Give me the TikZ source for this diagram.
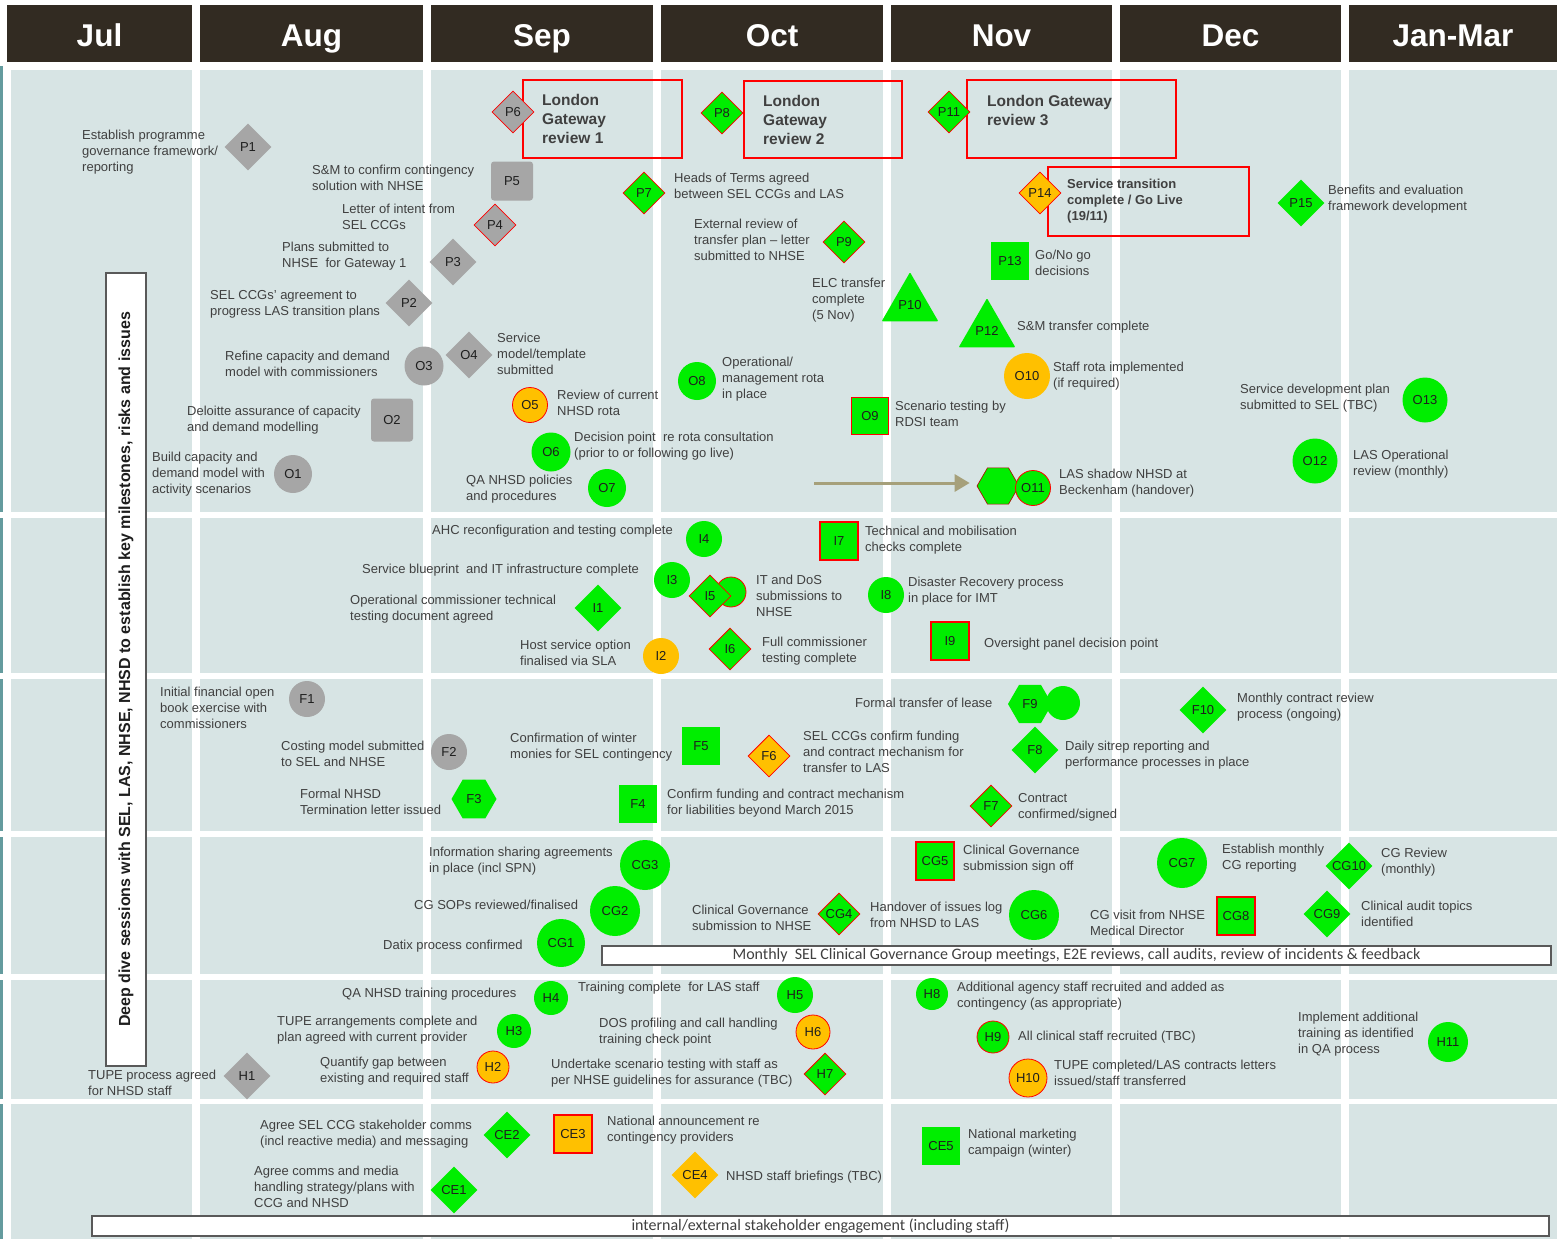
\documentclass[tikz,border=0pt]{standalone}
\usepackage{fontspec}
\setmainfont{Liberation Sans}
\newfontfamily\calib{Carlito}
\usetikzlibrary{shapes.geometric,arrows.meta}
\definecolor{grn}{RGB}{0,238,0}
\definecolor{org}{RGB}{255,192,0}
\definecolor{gry}{RGB}{166,166,166}
\definecolor{cellbg}{RGB}{215,228,228}
\definecolor{hdrc}{RGB}{50,43,34}
\definecolor{txt}{RGB}{64,64,64}
\definecolor{ntxt}{RGB}{30,30,30}
\definecolor{stripc}{RGB}{100,155,158}
\definecolor{arrc}{RGB}{166,160,122}
\definecolor{bord}{RGB}{89,89,89}
\newcommand\lblfont{\fontsize{13}{16}\selectfont}
\newcommand\gwfont{\fontsize{15.5}{19}\selectfont\bfseries}
\newcommand\stfont{\fontsize{13}{16}\selectfont\bfseries}
\newcommand\hdrfont{\fontsize{31.5}{36}\selectfont\bfseries}
\tikzset{
 mk/.style={inner sep=0pt, font=\lblfont, text=ntxt},
 gd/.style={mk, diamond, fill=gry, minimum size=47},
 gdr/.style={mk, diamond, fill=gry, draw=red, line width=0.8pt, minimum size=42},
 nd/.style={mk, diamond, fill=grn, minimum size=47},
 ndr/.style={mk, diamond, fill=grn, draw=red, line width=0.8pt, minimum size=42},
 od/.style={mk, diamond, fill=org, minimum size=47},
 odr/.style={mk, diamond, fill=org, draw=red, line width=0.8pt, minimum size=42},
 gsq/.style={mk, rectangle, rounded corners=3pt, fill=gry},
 nsq/.style={mk, rectangle, fill=grn},
 nsqr/.style={mk, rectangle, fill=grn, draw=red, line width=1.2pt},
 osqr/.style={mk, rectangle, fill=org, draw=red, line width=1.2pt},
 gc/.style={mk, circle, fill=gry},
 nc/.style={mk, circle, fill=grn},
 ncr/.style={mk, circle, fill=grn, draw=red, line width=0.8pt},
 oc/.style={mk, circle, fill=org},
 ocr/.style={mk, circle, fill=org, draw=red, line width=0.8pt},
 nhex/.style={mk, regular polygon, regular polygon sides=6, fill=grn},
 nhexr/.style={nhex, draw=red!70!black, line width=0.6pt},
 ntri/.style={mk, regular polygon, regular polygon sides=3, fill=grn, minimum size=63, rounded corners=1pt},
 lbl/.style={inner sep=0pt, font=\lblfont, text=txt, align=left, anchor=west},
 gwbox/.style={draw=red, line width=1.8pt, inner sep=0pt},
 gwtxt/.style={inner sep=0pt, font=\gwfont, text=txt, align=left, anchor=west},
 sttxt/.style={inner sep=0pt, font=\stfont, text=txt, align=left, anchor=west},
 banner/.style={draw=bord, line width=1.2pt, fill=white, inner sep=0pt, font=\calib\fontsize{16}{19}\selectfont, text=txt},
 hdr/.style={fill=hdrc, text=white, inner sep=0pt, minimum height=57, text height=27pt, text depth=0pt, font=\hdrfont},
 arr/.style={draw=arrc, line width=3pt, -{Triangle[length=15pt,width=17pt]}},
}
\begin{document}
\begin{tikzpicture}[x=1pt,y=-1pt]
\useasboundingbox (0,0) rectangle (1557,1239);
\fill[white] (0,0) rectangle (1557,1239);
% background cells
\foreach \xa/\xb in {11/192,200/423,431/653,661/883,891/1112,1120/1341,1349/1557}
 \foreach \ya/\yb in {70/512,518/673,679/831,837/974,980/1099,1104/1239}
  \fill[cellbg] (\xa,\ya) rectangle (\xb,\yb);
\foreach \ya/\yb in {66/512,518/673,679/831,837/974,980/1099,1104/1239}
  \fill[stripc] (0,\ya) rectangle (3,\yb);
% headers
\node[hdr, minimum width=185] (hJul) at (99.5,33.5) {Jul};
\node[hdr, minimum width=223] (hAug) at (311.5,33.5) {Aug};
\node[hdr, minimum width=222] (hSep) at (542,33.5) {Sep};
\node[hdr, minimum width=222] (hOct) at (772,33.5) {Oct};
\node[hdr, minimum width=221] (hNov) at (1001.5,33.5) {Nov};
\node[hdr, minimum width=221] (hDec) at (1230.5,33.5) {Dec};
\node[hdr, minimum width=208] (hJan) at (1453,33.5) {Jan-Mar};
% deep dive box
\node[draw=bord, line width=1.2pt, fill=white, rotate=90, minimum width=793, minimum height=40, inner sep=0pt, font=\fontsize{16}{19}\selectfont\bfseries, text=ntxt] (deep) at (126,669.5) {Deep dive sessions with SEL, LAS, NHSE, NHSD to establish key milestones, risks and issues};
% banners
\node[banner, minimum width=949, minimum height=19] (cgban) at (1076.5,955.5) {Monthly\ \ SEL Clinical Governance Group meetings, E2E reviews, call audits, review of incidents \& feedback};
\node[banner, minimum width=1457, minimum height=20] (seban) at (820.5,1226) {internal/external stakeholder engagement (including staff)};
% gateway boxes
\node[gwbox, minimum width=159, minimum height=78] (gw1) at (602.5,119) {};
\node[gwtxt] (gw1t) at (542,119) {London\\Gateway\\review 1};
\node[gwbox, minimum width=158, minimum height=77] (gw2) at (823,119.5) {};
\node[gwtxt] (gw2t) at (763,120) {London\\Gateway\\review 2};
\node[gwbox, minimum width=209, minimum height=78] (gw3) at (1071.5,119) {};
\node[gwtxt] (gw3t) at (987,110.5) {London Gateway\\review 3};
\node[gwbox, minimum width=201, minimum height=69] (stb) at (1148.5,201.5) {};
\node[sttxt] (stt) at (1067,201) {Service transition\\complete / Go Live\\(19/11)};
% ---------- row 1 nodes
\node[gd] (P1) at (248,147) {P1};
\node[gdr] (P6) at (513,112) {P6};
\node[gsq, minimum width=42, minimum height=39] (P5) at (512,181) {P5};
\node[gdr] (P4) at (495,225) {P4};
\node[gd] (P3) at (453,262) {P3};
\node[gd] (P2) at (409,303) {P2};
\node[gc, minimum size=39] (O3) at (424,366) {O3};
\node[gd] (O4) at (469,355) {O4};
\node[gsq, minimum width=42, minimum height=43] (O2) at (392,420) {O2};
\node[gc, minimum size=38] (O1) at (293,474) {O1};
\node[ndr] (P8) at (722,113) {P8};
\node[ndr] (P11) at (949,112) {P11};
\node[ndr] (P7) at (644,193) {P7};
\node[ndr] (P9) at (844,242) {P9};
\node[ntri] (P10) at (910,305) {P10};
\node[ntri] (P12) at (987,331) {P12};
\node[nsq, minimum size=38] (P13) at (1010,261) {P13};
\node[odr] (P14) at (1040,193) {P14};
\node[nd] (P15) at (1301,203) {P15};
\node[ocr, minimum size=35] (O5) at (530,405) {O5};
\node[nc, minimum size=39] (O6) at (551,452) {O6};
\node[nc, minimum size=38] (O7) at (607,488) {O7};
\node[nc, minimum size=38] (O8) at (697,381) {O8};
\node[nsqr, minimum size=37] (O9) at (870,416) {O9};
\node[oc, minimum size=46] (O10) at (1027,376) {O10};
\node[nhexr, minimum size=42] (O11h) at (998,486) {};
\node[ncr, minimum size=35] (O11) at (1033,488) {O11};
\node[nc, minimum size=45] (O13) at (1425,400) {O13};
\node[nc, minimum size=45] (O12) at (1315,461) {O12};
\coordinate (arrS) at (814,483);
\draw[arr, shorten >=7pt] (arrS) -- (arrS -| O11h.west);
% row 1 labels
\node[lbl] (tP1) at (82,152) {Establish programme\\governance framework/\\reporting};
\node[lbl] (tP5) at (312,177.5) {S\&M to confirm contingency\\solution with NHSE};
\node[lbl] (tP4) at (342,217) {Letter of intent from\\SEL CCGs};
\node[lbl] (tP3) at (282,256) {Plans submitted to\\NHSE\ \ for Gateway 1};
\node[lbl] (tP2) at (210,304) {SEL CCGs' agreement to\\progress LAS transition plans};
\node[lbl] (tO3) at (225,364) {Refine capacity and demand\\model with commissioners};
\node[lbl] (tO4) at (497,353.5) {Service\\model/template\\submitted};
\node[lbl] (tO2) at (187,420) {Deloitte assurance of capacity\\and demand modelling};
\node[lbl] (tO1) at (152,474) {Build capacity and\\demand model with\\activity scenarios};
\node[lbl] (tP7) at (674,185.5) {Heads of Terms agreed\\between SEL CCGs and LAS};
\node[lbl] (tP9) at (694,240) {External review of\\transfer plan – letter\\submitted to NHSE};
\node[lbl] (tP10) at (812,300) {ELC transfer\\complete\\(5 Nov)};
\node[lbl] (tP12) at (1017,327) {S\&M transfer complete};
\node[lbl] (tP13) at (1035,263) {Go/No go\\decisions};
\node[lbl] (tP15) at (1328,199) {Benefits and evaluation\\framework development};
\node[lbl] (tO5) at (557,403) {Review of current\\NHSD rota};
\node[lbl] (tO6) at (574,446) {Decision point\ \ re rota consultation\\(prior to or following go live)};
\node[lbl] (tO7) at (466,489) {QA NHSD policies\\and procedures};
\node[lbl] (tO8) at (722,379) {Operational/\\management rota\\in place};
\node[lbl] (tO9) at (895,414) {Scenario testing by\\RDSI team};
\node[lbl] (tO10) at (1053,376) {Staff rota implemented\\(if required)};
\node[lbl] (tO11) at (1059,483.5) {LAS shadow NHSD at\\Beckenham (handover)};
\node[lbl] (tO13) at (1240,398.5) {Service development plan\\submitted to SEL (TBC)};
\node[lbl] (tO12) at (1353,464) {LAS Operational\\review (monthly)};
% ---------- row 2
\node[nc, minimum size=36] (I4) at (704,539) {I4};
\node[nc, minimum size=36] (I3) at (672,580) {I3};
\node[ncr, minimum size=30] (I5c) at (731,592) {};
\node[ndr] (I5) at (710,596) {I5};
\node[nd] (I1) at (598,608) {I1};
\node[nsqr, minimum size=38] (I7) at (839,541) {I7};
\node[nc, minimum size=36] (I8) at (886,595) {I8};
\node[oc, minimum size=36] (I2) at (661,656) {I2};
\node[ndr] (I6) at (730,649) {I6};
\node[nsqr, minimum size=38] (I9) at (950,641) {I9};
\node[lbl] (tI4) at (432,531) {AHC reconfiguration and testing complete};
\node[lbl] (tI3) at (362,570) {Service blueprint\ \ and IT infrastructure complete};
\node[lbl] (tI1) at (350,609) {Operational commissioner technical\\testing document agreed};
\node[lbl] (tI5) at (756,596) {IT and DoS\\submissions to\\NHSE};
\node[lbl] (tI7) at (865,540) {Technical and mobilisation\\checks complete};
\node[lbl] (tI8) at (908,591) {Disaster Recovery process\\in place for IMT};
\node[lbl] (tI2) at (520,653) {Host service option\\finalised via SLA};
\node[lbl] (tI6) at (762,651) {Full commissioner\\testing complete};
\node[lbl] (tI9) at (984,644) {Oversight panel decision point};
% ---------- row 3
\node[gc, minimum size=36] (F1) at (307,699) {F1};
\node[gc, minimum size=36] (F2) at (449,752) {F2};
\node[nhex, minimum size=45] (F3) at (474,799) {F3};
\node[nsq, minimum size=38] (F5) at (701,746) {F5};
\node[nsq, minimum size=38] (F4) at (638,804) {F4};
\node[odr] (F6) at (769,756) {F6};
\node[nc, minimum size=34] (F9c) at (1063,703) {};
\node[nhex, minimum size=44] (F9) at (1030,704) {F9};
\node[nd] (F10) at (1203,710) {F10};
\node[nd] (F8) at (1035,750) {F8};
\node[ndr] (F7) at (991,806) {F7};
\node[lbl] (tF1) at (160,708) {Initial financial open\\book exercise with\\commissioners};
\node[lbl] (tF2) at (281,754) {Costing model submitted\\to SEL and NHSE};
\node[lbl] (tF3) at (300,802) {Formal NHSD\\Termination letter issued};
\node[lbl] (tF5) at (510,747) {Confirmation of winter\\monies for SEL contingency};
\node[lbl] (tF4) at (667,803) {Confirm funding and contract mechanism\\for liabilities beyond March 2015};
\node[lbl] (tF6) at (803,752) {SEL CCGs confirm funding\\and contract mechanism for\\transfer to LAS};
\node[lbl] (tF9) at (855,703) {Formal transfer of lease};
\node[lbl] (tF10) at (1237,707) {Monthly contract review\\process (ongoing)};
\node[lbl] (tF8) at (1065,755) {Daily sitrep reporting and\\performance processes in place};
\node[lbl] (tF7) at (1018,807) {Contract\\confirmed/signed};
% ---------- row 4
\node[nc, minimum size=50] (CG3) at (645,865) {CG3};
\node[nc, minimum size=50] (CG2) at (615,911) {CG2};
\node[nc, minimum size=48] (CG1) at (561,943) {CG1};
\node[ndr] (CG4) at (839,914) {CG4};
\node[nsqr, minimum size=38] (CG5) at (935,861) {CG5};
\node[nc, minimum size=50] (CG6) at (1034,915) {CG6};
\node[nc, minimum size=50] (CG7) at (1182,863) {CG7};
\node[nd] (CG10) at (1349,866) {CG10};
\node[nsqr, minimum size=38] (CG8) at (1236,916) {CG8};
\node[nd] (CG9) at (1327,914) {CG9};
\node[lbl] (tCG3) at (429,861) {Information sharing agreements\\in place (incl SPN)};
\node[lbl] (tCG2) at (414,905) {CG SOPs reviewed/finalised};
\node[lbl] (tCG1) at (383,946) {Datix process confirmed};
\node[lbl] (tCG4) at (692,918) {Clinical Governance\\submission to NHSE};
\node[lbl] (tCG5) at (963,859) {Clinical Governance\\submission sign off};
\node[lbl] (tCG6) at (870,915) {Handover of issues log\\from NHSD to LAS};
\node[lbl] (tCG7) at (1222,858) {Establish monthly\\CG reporting};
\node[lbl] (tCG10) at (1381,862) {CG Review\\(monthly)};
\node[lbl] (tCG8) at (1090,923) {CG visit from NHSE\\Medical Director};
\node[lbl] (tCG9) at (1361,914) {Clinical audit topics\\identified};
% ---------- row 5
\node[nc, minimum size=34] (H4) at (551,998) {H4};
\node[nc, minimum size=36] (H5) at (795,995) {H5};
\node[nc, minimum size=34] (H3) at (514,1031) {H3};
\node[ocr, minimum size=32] (H2) at (493,1067) {H2};
\node[gd] (H1) at (247,1076) {H1};
\node[ocr, minimum size=34] (H6) at (813,1032) {H6};
\node[ndr] (H7) at (825,1074) {H7};
\node[nc, minimum size=32] (H8) at (932,994) {H8};
\node[ncr, minimum size=32] (H9) at (993,1037) {H9};
\node[ocr, minimum size=38] (H10) at (1028,1078) {H10};
\node[nc, minimum size=40] (H11) at (1448,1042) {H11};
\node[lbl] (tH4) at (342,994) {QA NHSD training procedures};
\node[lbl] (tH5) at (578,988) {Training complete\ \ for LAS staff};
\node[lbl] (tH3) at (277,1030) {TUPE arrangements complete and\\plan agreed with current provider};
\node[lbl] (tH2) at (320,1071) {Quantify gap between\\existing and required staff};
\node[lbl] (tH1) at (88,1083) {TUPE process agreed\\for NHSD staff};
\node[lbl] (tH6) at (599,1032) {DOS profiling and call handling\\training check point};
\node[lbl] (tH7) at (551,1073) {Undertake scenario testing with staff as\\per NHSE guidelines for assurance (TBC)};
\node[lbl] (tH8) at (957,996) {Additional agency staff recruited and added as\\contingency (as appropriate)};
\node[lbl] (tH9) at (1018,1037) {All clinical staff recruited (TBC)};
\node[lbl] (tH10) at (1054,1073) {TUPE completed/LAS contracts letters\\issued/staff transferred};
\node[lbl] (tH11) at (1298,1034) {Implement additional\\training as identified\\in QA process};
% ---------- row 6
\node[nd] (CE2) at (507,1135) {CE2};
\node[nd] (CE1) at (454,1190) {CE1};
\node[osqr, minimum size=38] (CE3) at (573,1134) {CE3};
\node[od] (CE4) at (695,1175) {CE4};
\node[nsq, minimum size=38] (CE5) at (941,1146) {CE5};
\node[lbl] (tCE2) at (260,1134) {Agree SEL CCG stakeholder comms\\(incl reactive media) and messaging};
\node[lbl] (tCE1) at (254,1187) {Agree comms and media\\handling strategy/plans with\\CCG and NHSD};
\node[lbl] (tCE3) at (607,1130) {National announcement re\\contingency providers};
\node[lbl] (tCE4) at (726,1177) {NHSD staff briefings (TBC)};
\node[lbl] (tCE5) at (968,1143) {National marketing\\campaign (winter)};
\end{tikzpicture}
\end{document}
